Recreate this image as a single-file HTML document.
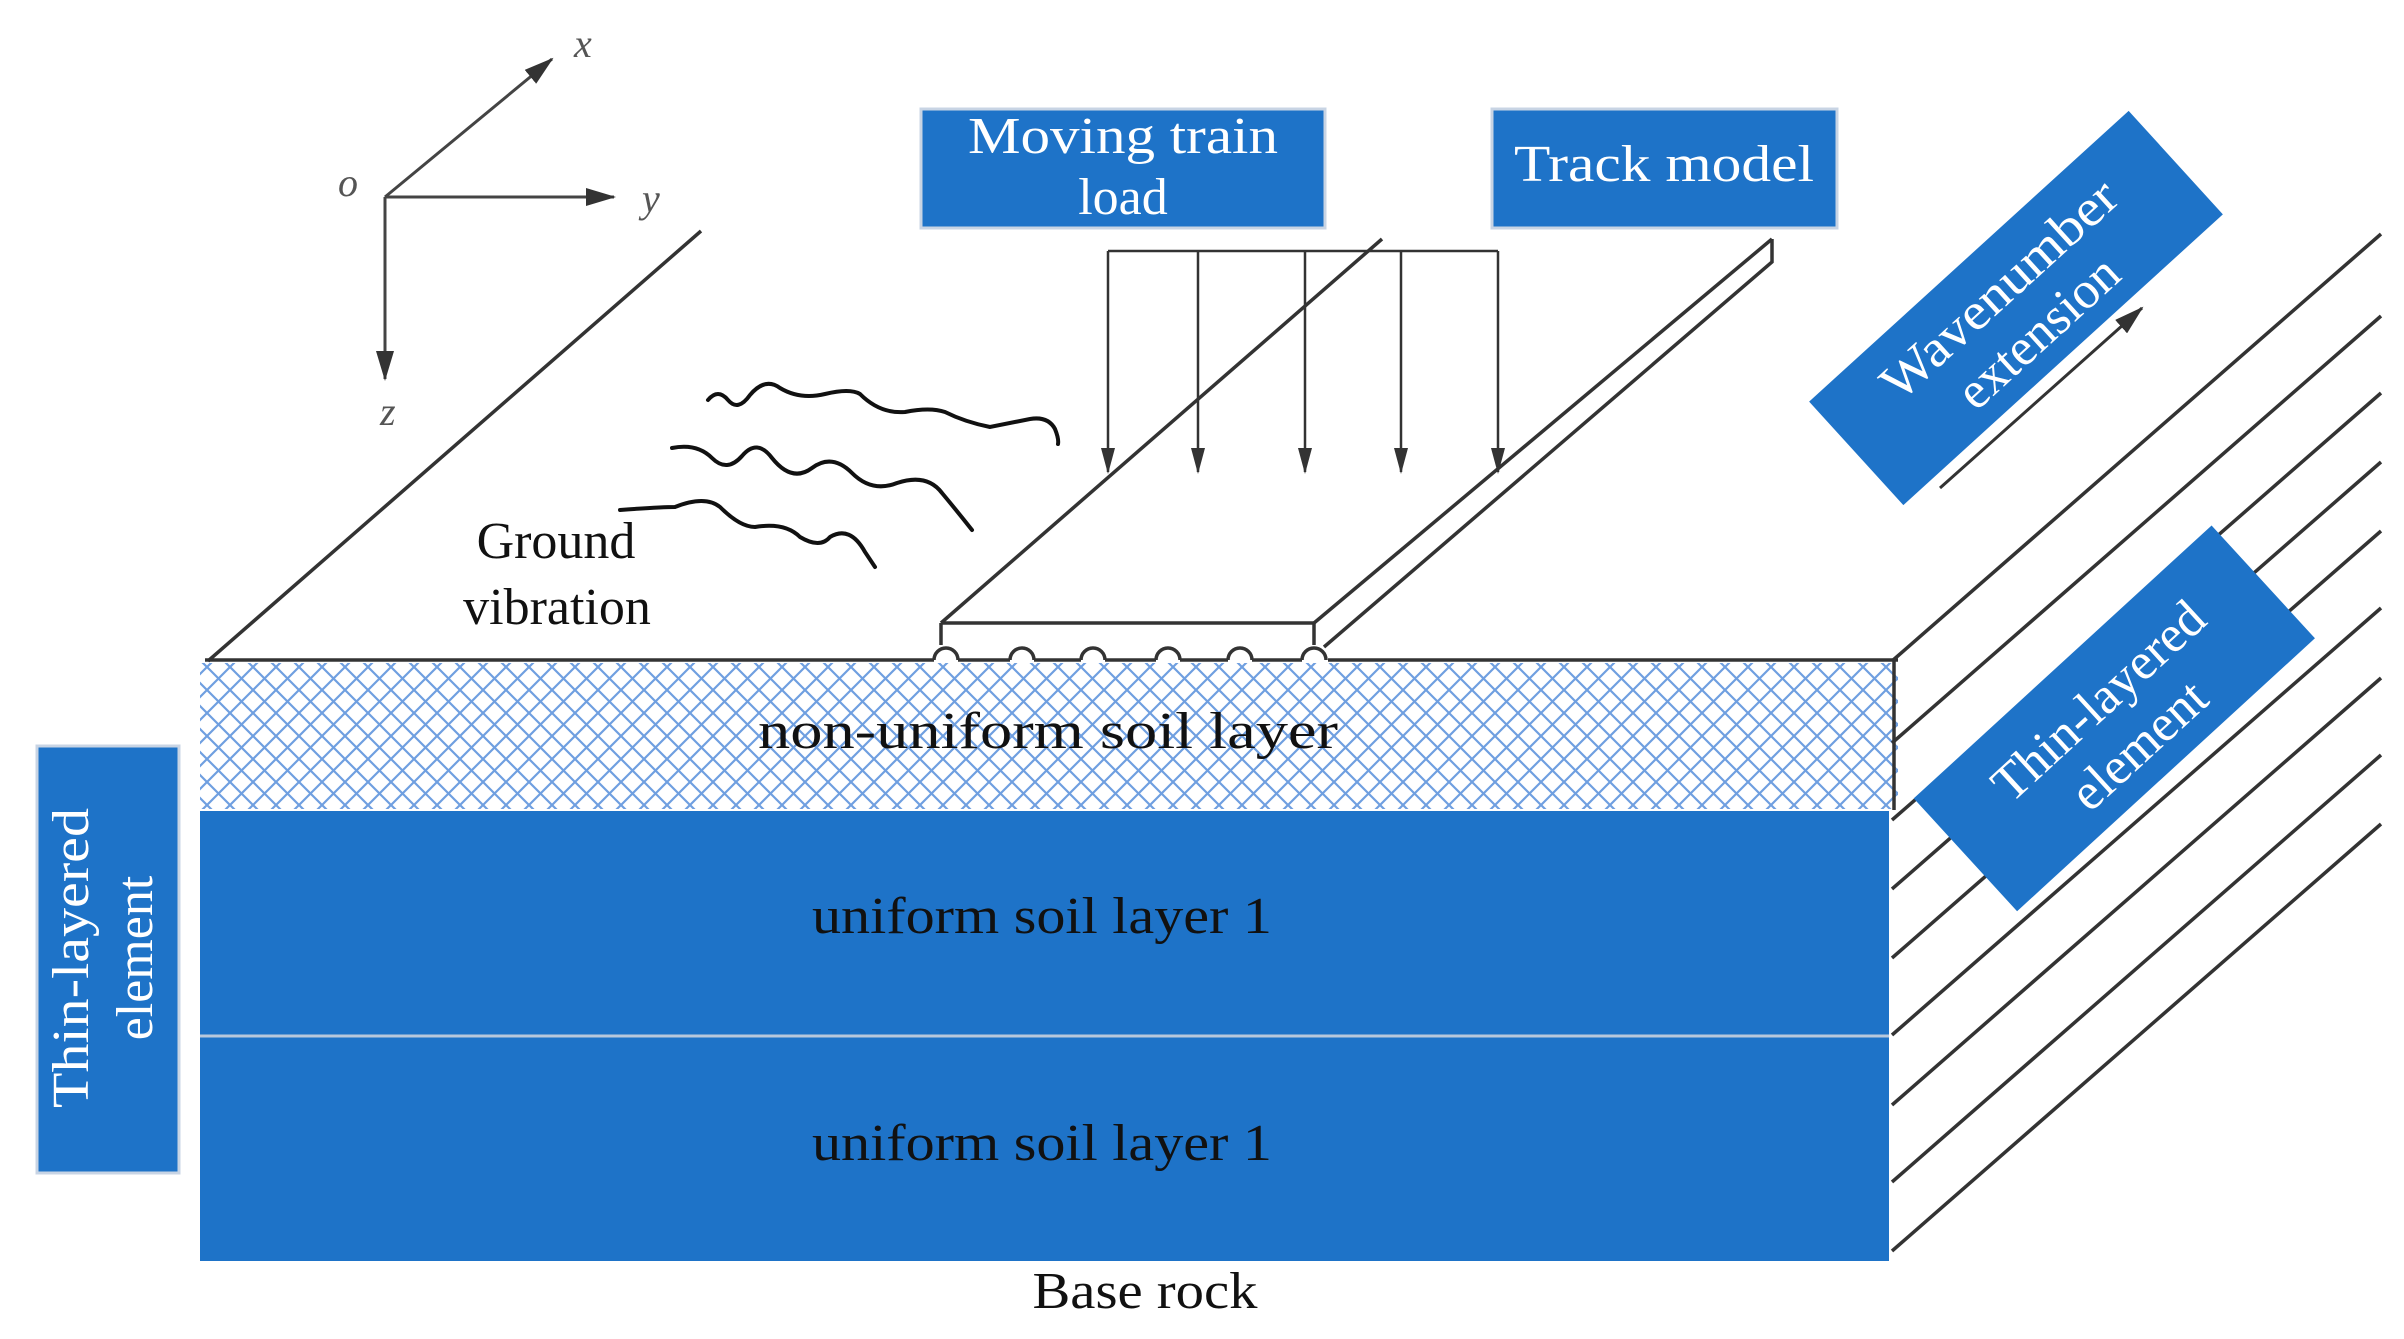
<!DOCTYPE html>
<html><head><meta charset="utf-8"><style>
html,body{margin:0;padding:0;background:#fff;}
svg{display:block;}
text{font-family:"Liberation Serif",serif;}
</style></head><body>
<svg width="2404" height="1339" viewBox="0 0 2404 1339" xmlns="http://www.w3.org/2000/svg">
<defs>
<pattern id="h" width="23" height="23" patternUnits="userSpaceOnUse">
<path d="M0,0 L23,23 M23,0 L0,23" stroke="#6f9fe0" stroke-width="2.2" fill="none"/>
</pattern>
<marker id="a" markerWidth="26" markerHeight="14" refX="24" refY="7" orient="auto" markerUnits="userSpaceOnUse" viewBox="0 0 26 14">
<path d="M0,0 L26,7 L0,14 z" fill="#333"/>
</marker>
<marker id="b" markerWidth="30" markerHeight="18" refX="28" refY="9" orient="auto" markerUnits="userSpaceOnUse" viewBox="0 0 30 18">
<path d="M0,0 L30,9 L0,18 z" fill="#333"/>
</marker>
</defs>
<rect width="2404" height="1339" fill="#fff"/>

<g stroke="#444" stroke-width="3" fill="none">
<line x1="385" y1="197" x2="552" y2="59" marker-end="url(#b)"/>
<line x1="385" y1="197" x2="614" y2="197" marker-end="url(#b)"/>
<line x1="385" y1="197" x2="385" y2="379" marker-end="url(#b)"/>
</g>
<g font-style="italic" font-size="40" fill="#555">
<text x="574" y="57">x</text>
<text x="338" y="196">o</text>
<text x="642" y="212">y</text>
<text x="380" y="425">z</text>
</g>

<rect x="200" y="663" width="1698" height="146" fill="#fff"/>
<rect x="200" y="663" width="1698" height="146" fill="url(#h)"/>
<rect x="200" y="811" width="1689" height="224" fill="#1e73c8"/>
<rect x="200" y="1037" width="1689" height="224" fill="#1e73c8"/>
<line x1="200" y1="1036" x2="1889" y2="1036" stroke="#b8c8dc" stroke-width="3"/>

<g stroke="#333" stroke-width="3.5" fill="none">
<line x1="208" y1="661" x2="701" y2="231"/>
<polyline points="205,660 934,660"/>
<polyline points="1328,660 1898,660"/>
<line x1="1894" y1="660" x2="1894" y2="810"/>
</g>
<g stroke="#333" stroke-width="3.5">
<line x1="1892" y1="661" x2="2381" y2="234"/>
<line x1="1892" y1="743" x2="2381" y2="316"/>
<line x1="1892" y1="820" x2="2381" y2="393"/>
<line x1="1892" y1="889" x2="2381" y2="462"/>
<line x1="1892" y1="958" x2="2381" y2="531"/>
<line x1="1892" y1="1035" x2="2381" y2="608"/>
<line x1="1892" y1="1105" x2="2381" y2="678"/>
<line x1="1892" y1="1182" x2="2381" y2="755"/>
<line x1="1892" y1="1251" x2="2381" y2="824"/>
</g>

<g stroke="#333" stroke-width="3.5" fill="none">
<line x1="941" y1="623" x2="1382" y2="239"/>
<line x1="941" y1="623" x2="1314" y2="623"/>
<line x1="941" y1="623" x2="941" y2="645"/>
<line x1="1314" y1="623" x2="1314" y2="645"/>
<line x1="1314" y1="623" x2="1772" y2="239"/>
<polyline points="1772,239 1772,262 1324,647"/>
<path d="M934,660 a12,12 0 0 1 24,0 M1010,660 a12,12 0 0 1 24,0 M1081,660 a12,12 0 0 1 24,0 M1156,660 a12,12 0 0 1 24,0 M1228,660 a12,12 0 0 1 24,0 M1302,660 a12,12 0 0 1 24,0"/>
<path d="M958,660 H1010 M1034,660 H1081 M1105,660 H1156 M1180,660 H1228 M1252,660 H1302"/>
</g>

<g stroke="#333" stroke-width="2.5" fill="none">
<line x1="1108" y1="251" x2="1498" y2="251"/>
<line x1="1108" y1="251" x2="1108" y2="472" marker-end="url(#a)"/>
<line x1="1198" y1="251" x2="1198" y2="472" marker-end="url(#a)"/>
<line x1="1305" y1="251" x2="1305" y2="472" marker-end="url(#a)"/>
<line x1="1401" y1="251" x2="1401" y2="472" marker-end="url(#a)"/>
<line x1="1498" y1="251" x2="1498" y2="472" marker-end="url(#a)"/>
</g>

<g stroke="#111" stroke-width="4" fill="none" stroke-linecap="round">
<path d="M708,400 q10,-12 20,0 q10,12 22,-5 q15,-18 30,-7 q20,12 45,6 q25,-6 35,0 q20,20 45,18 q25,-5 40,0 q20,10 45,15 q25,-5 40,-8 q18,-3 25,10 q4,10 3,15"/>
<path d="M672,448 q25,-5 40,10 q15,15 30,-2 q15,-18 30,2 q20,25 40,10 q20,-15 40,5 q20,20 45,10 q30,-10 45,10 q15,18 30,37"/>
<path d="M620,510 q40,-3 55,-3 q30,-12 45,0 q20,20 35,20 q30,-5 45,10 q20,12 30,0 q20,-12 35,15 l10,15"/>
</g>

<g font-size="52" fill="#111" text-anchor="middle">
<text x="556" y="558">Ground</text>
<text x="557" y="624">vibration</text>
<text x="1048" y="748" textLength="580" lengthAdjust="spacingAndGlyphs">non-uniform soil layer</text>
<text x="1042" y="933" textLength="460" lengthAdjust="spacingAndGlyphs">uniform soil layer 1</text>
<text x="1042" y="1160" textLength="460" lengthAdjust="spacingAndGlyphs">uniform soil layer 1</text>
<text x="1145" y="1308" textLength="225" lengthAdjust="spacingAndGlyphs">Base rock</text>
</g>

<rect x="921" y="109" width="404" height="119" fill="#1e73c8" stroke="#c8d4e4" stroke-width="3"/>
<rect x="1492" y="109" width="345" height="119" fill="#1e73c8" stroke="#c8d4e4" stroke-width="3"/>
<rect x="37" y="746" width="142" height="427" fill="#1e73c8" stroke="#c8d4e4" stroke-width="3"/>
<g font-size="52" fill="#fff" text-anchor="middle">
<text x="1123" y="153" textLength="310" lengthAdjust="spacingAndGlyphs">Moving train</text>
<text x="1123" y="214">load</text>
<text x="1664" y="181" textLength="300" lengthAdjust="spacingAndGlyphs">Track model</text>
<g transform="translate(108,958) rotate(-90)">
<text x="0" y="-20" textLength="300" lengthAdjust="spacingAndGlyphs">Thin-layered</text>
<text x="0" y="44">element</text>
</g>
</g>
<g transform="translate(2016,308) rotate(-42.3)">
<rect x="-216" y="-70" width="432" height="140" fill="#1e73c8"/>
<text x="0" y="-8" font-size="52" fill="#fff" text-anchor="middle" textLength="300" lengthAdjust="spacingAndGlyphs">Wavenumber</text>
<text x="0" y="50" font-size="52" fill="#fff" text-anchor="middle">extension</text>
</g>
<line x1="1940" y1="488" x2="2142" y2="308" stroke="#333" stroke-width="3" marker-end="url(#b)"/>
<g transform="translate(2114,718) rotate(-42.5)">
<rect x="-202" y="-76" width="404" height="153" fill="#1e73c8"/>
<text x="0" y="-6" font-size="52" fill="#fff" text-anchor="middle">Thin-layered</text>
<text x="0" y="54" font-size="52" fill="#fff" text-anchor="middle">element</text>
</g>
</svg>
</body></html>
